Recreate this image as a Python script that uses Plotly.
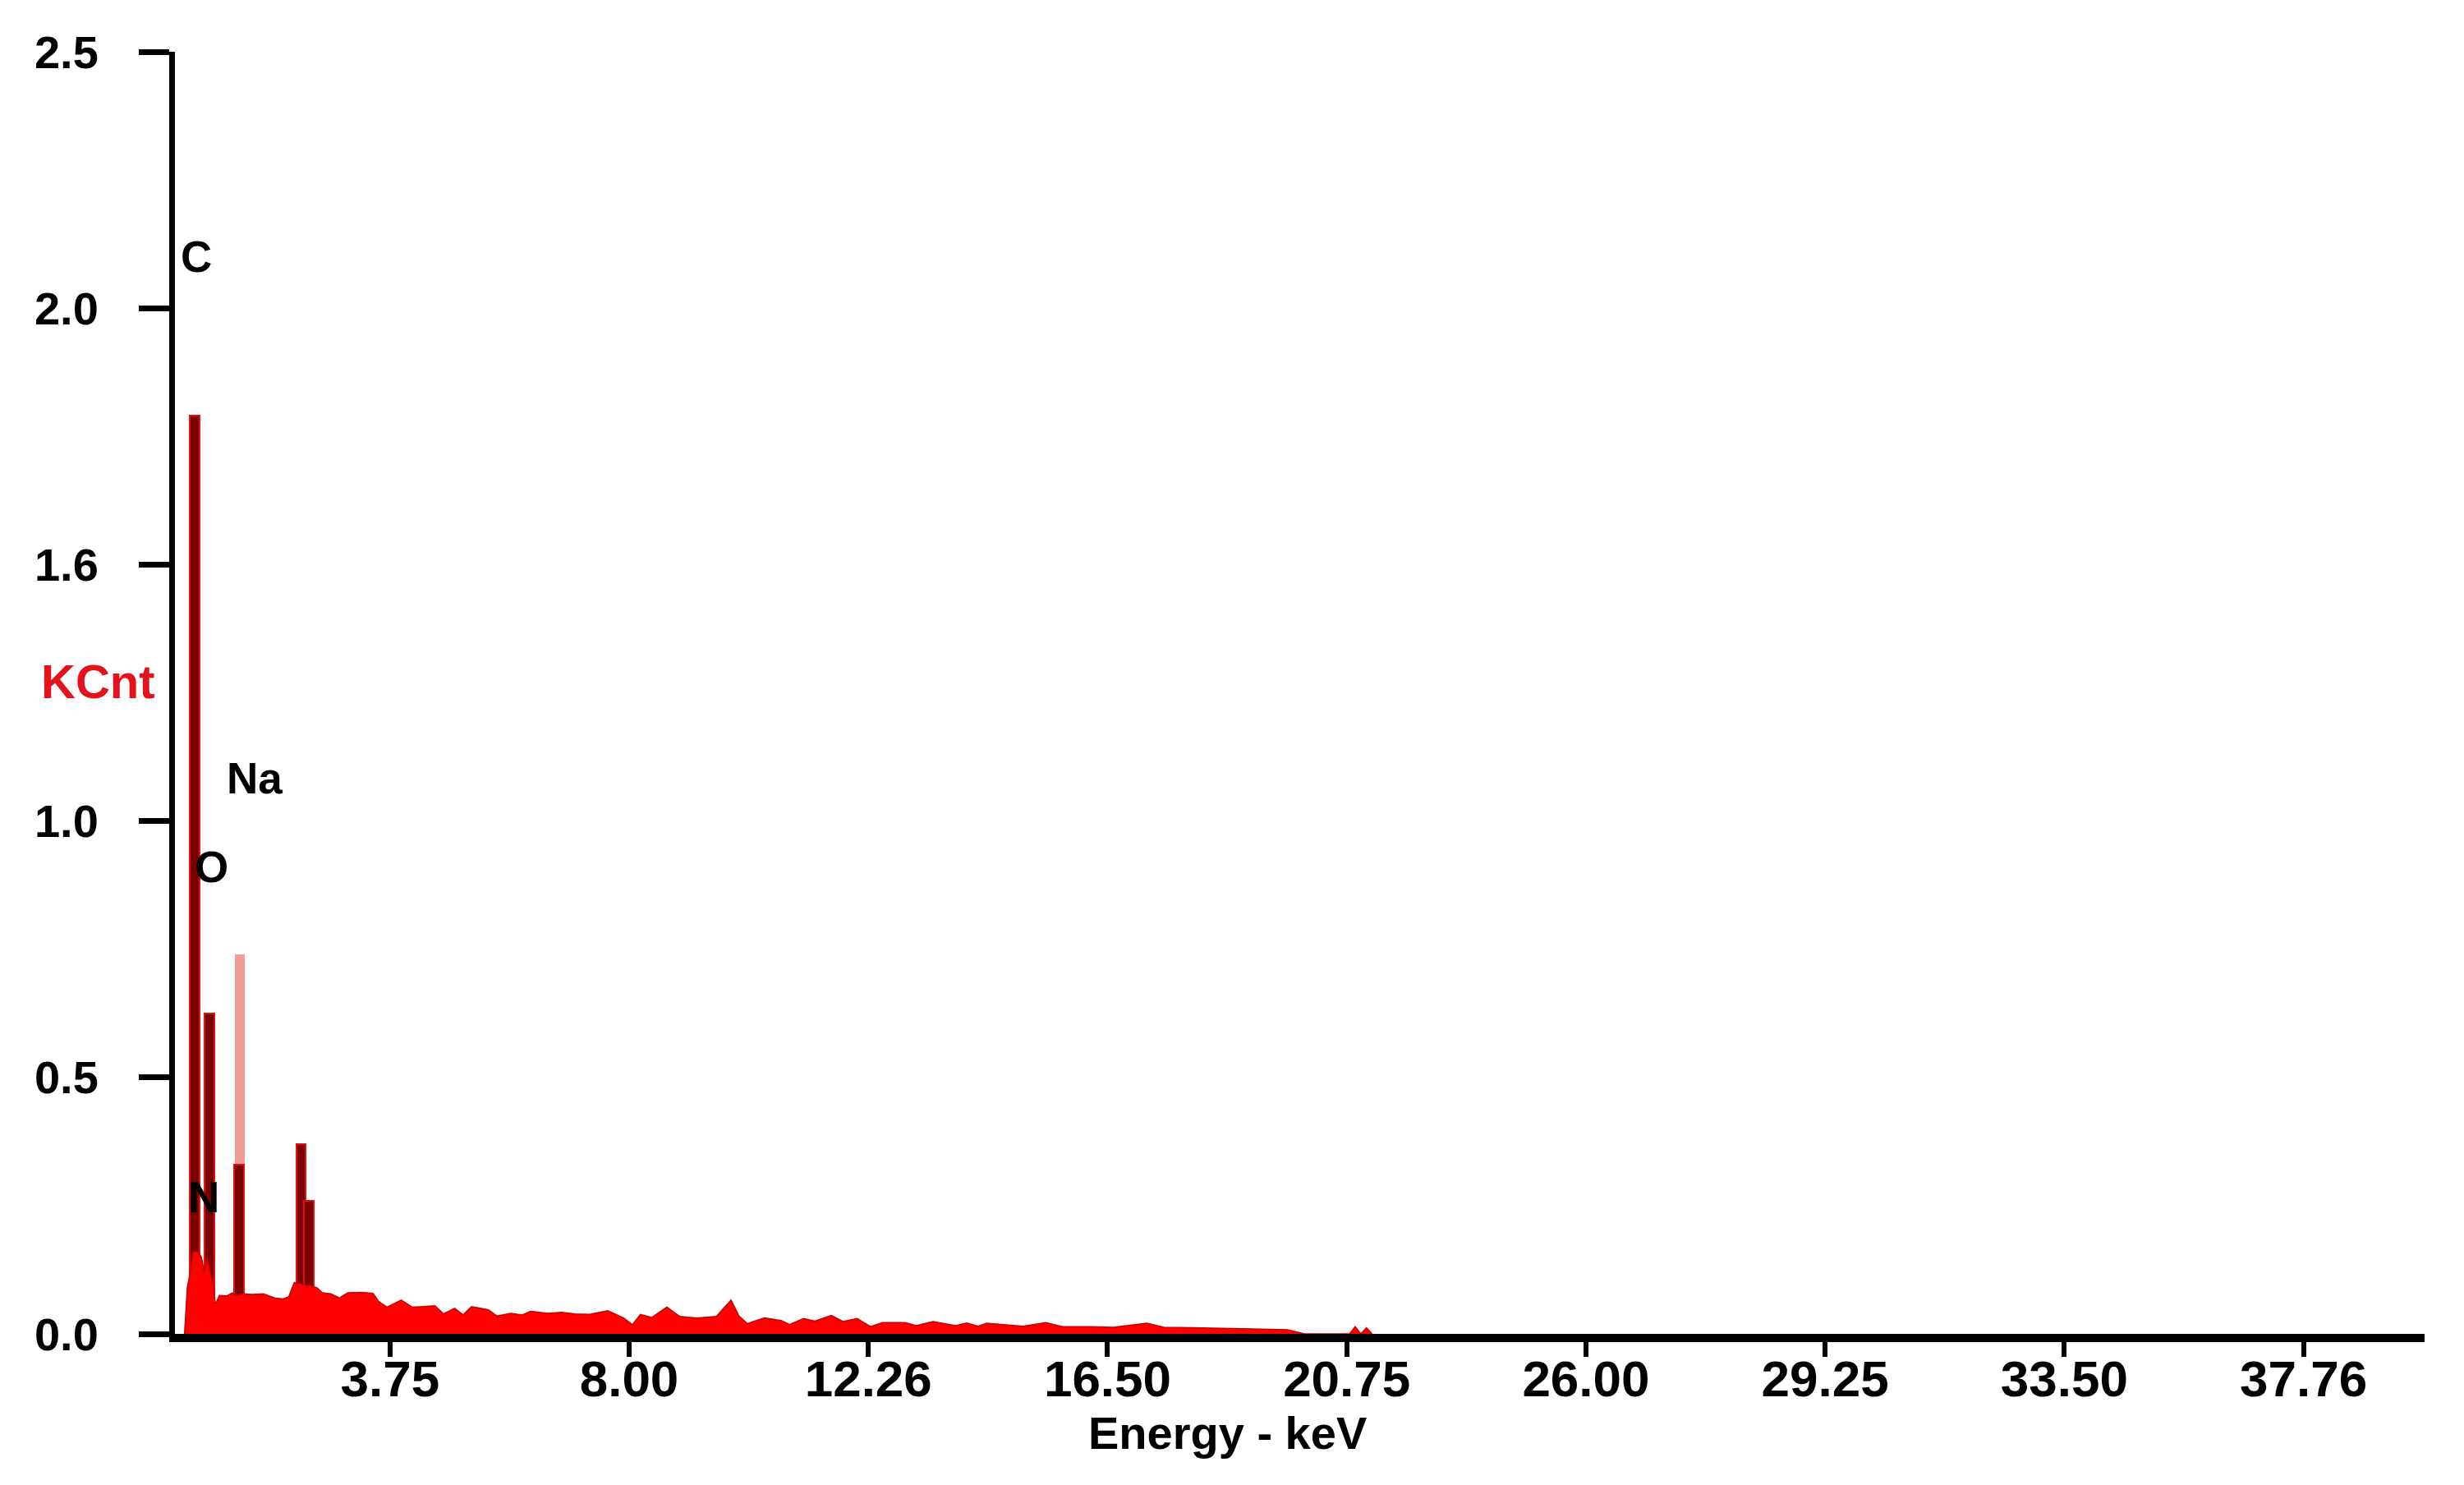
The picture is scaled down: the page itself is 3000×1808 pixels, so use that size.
import plotly.graph_objects as go

# ---- continuum (keV, KCnt) ----
energy = [0.10, 0.15, 0.20, 0.25, 0.33, 0.40, 0.45, 0.50, 0.60, 0.65, 0.72, 0.85, 0.95, 1.00,
          1.15, 1.30, 1.50, 1.70, 1.85, 1.95, 2.05, 2.45, 2.55, 2.70, 2.85, 3.00, 3.25, 3.45,
          3.55, 3.70, 3.95, 4.15, 4.55, 4.70, 4.90, 5.05, 5.20, 5.50, 5.65, 5.90, 6.10, 6.25,
          6.55, 6.80, 7.04, 7.30, 7.62, 7.90, 8.06, 8.20, 8.40, 8.67, 8.90, 9.20, 9.55, 9.81,
          9.95, 10.10, 10.40, 10.70, 10.85, 11.10, 11.30, 11.59, 11.80, 12.05, 12.29, 12.50,
          12.90, 13.10, 13.40, 13.80, 14.00, 14.20, 14.35, 14.70, 15.00, 15.40, 15.70, 16.20,
          16.60, 17.20, 17.50, 18.00, 18.60, 19.20, 19.70, 20.00, 20.80, 20.90, 21.00, 21.10,
          21.20]
counts = [0.0, 0.09, 0.12, 0.16, 0.16, 0.15, 0.12, 0.15, 0.10, 0.058, 0.075, 0.074, 0.080, 0.075,
          0.078, 0.077, 0.078, 0.070, 0.068, 0.072, 0.10, 0.09, 0.080, 0.078, 0.070, 0.080, 0.081, 0.079,
          0.063, 0.052, 0.066, 0.052, 0.055, 0.039, 0.050, 0.037, 0.053, 0.047, 0.035, 0.040, 0.037, 0.044,
          0.040, 0.042, 0.039, 0.038, 0.045, 0.031, 0.018, 0.038, 0.032, 0.052, 0.034, 0.031, 0.034, 0.066,
          0.035, 0.020, 0.031, 0.026, 0.018, 0.030, 0.025, 0.036, 0.024, 0.030, 0.014, 0.022,
          0.022, 0.016, 0.024, 0.016, 0.021, 0.015, 0.021, 0.018, 0.015, 0.022, 0.014, 0.014,
          0.013, 0.021, 0.013, 0.012, 0.011, 0.010, 0.008, 0.0, 0.0, 0.014, 0.0, 0.012,
          0.0]

# ---- characteristic peaks ----
peak_energy = [0.28, 0.54, 1.07, 2.17, 2.31]
peak_height = [1.79, 0.625, 0.33, 0.37, 0.26]
# light KLM marker line at Na
marker_energy = [1.08]
marker_height = [0.74]

# ---- element labels ----
element_labels = ["C", "N", "O", "Na"]
label_x = [0.31, 0.44, 0.58, 1.34]
label_y = [2.10, 0.267, 0.91, 1.084]

# ---- ticks ----
x_tickvals = [3.75, 8.00, 12.25, 16.50, 20.75, 25.00, 29.25, 33.50, 37.75]
x_ticktext = ["3.75", "8.00", "12.26", "16.50", "20.75", "26.00", "29.25", "33.50", "37.76"]
y_tickvals = [0.0, 0.5, 1.0, 1.5, 2.0, 2.5]
y_ticktext = ["0.0", "0.5", "1.0", "1.6", "2.0", "2.5"]

FONT = "Liberation Sans"

fig = go.Figure()

fig.add_trace(go.Bar(x=marker_energy, y=marker_height, width=0.17,
                     marker=dict(color="#f39a9a", line=dict(width=0)),
                     showlegend=False, hoverinfo="skip"))
fig.add_trace(go.Bar(x=peak_energy, y=peak_height, width=0.17,
                     marker=dict(color="#7a0000", line=dict(color="#e01010", width=2)),
                     showlegend=False))
fig.add_trace(go.Scatter(x=energy, y=counts, mode="lines", fill="tozeroy",
                         fillcolor="#ff0000", line=dict(color="#c80000", width=1.5),
                         showlegend=False))

for t, xv, yv in zip(element_labels, label_x, label_y):
    fig.add_annotation(x=xv, y=yv, xref="x", yref="y", text=t, showarrow=False,
                       font=dict(family=FONT, size=53, color="black", weight="bold"),
                       xanchor="center", yanchor="middle")

fig.add_annotation(x=-0.034, y=0.509, xref="paper", yref="paper", text="KCnt",
                   showarrow=False, xanchor="center", yanchor="middle",
                   font=dict(family=FONT, size=58, color="#e3121b", weight="bold"))
fig.add_annotation(x=0.4677, y=-0.077, xref="paper", yref="paper", text="Energy - keV",
                   showarrow=False, xanchor="center", yanchor="middle",
                   font=dict(family=FONT, size=56, color="black", weight="bold"))

fig.update_layout(
    width=3000, height=1808,
    margin=dict(l=205, r=56, t=55, b=192, autoexpand=False),
    paper_bgcolor="white", plot_bgcolor="white",
    barmode="overlay", bargap=0,
    showlegend=False,
)
fig.update_xaxes(range=[-0.07, 39.9], showline=True, linewidth=10, linecolor="black",
                 ticks="outside", ticklen=18, tickwidth=6, tickcolor="black",
                 tickvals=x_tickvals, ticktext=x_ticktext, ticklabelstandoff=-26,
                 tickfont=dict(family=FONT, size=62, color="black", weight="bold"),
                 showgrid=False, zeroline=False)
fig.update_yaxes(range=[0, 2.5], showline=True, linewidth=7, linecolor="black",
                 ticks="outside", ticklen=37, tickwidth=7, tickcolor="black",
                 tickvals=y_tickvals, ticktext=y_ticktext, ticklabelstandoff=38,
                 tickfont=dict(family=FONT, size=56, color="black", weight="bold"),
                 showgrid=False, zeroline=False)

fig.write_html("out.html")
